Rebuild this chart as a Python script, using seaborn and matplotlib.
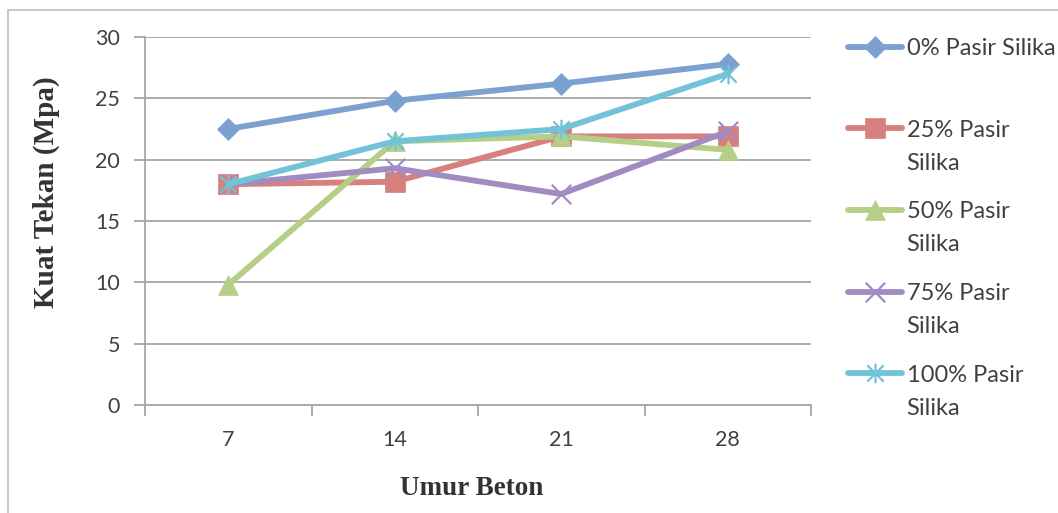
import numpy as np
import pandas as pd
import matplotlib
matplotlib.use("Agg")
import matplotlib.pyplot as plt
from matplotlib.path import Path
from matplotlib.patches import Rectangle
import seaborn as sns

# Data: compressive strength by concrete age
umur = ["7", "14", "21", "28"]
seri = ["0% Pasir Silika", "25% Pasir\nSilika", "50% Pasir\nSilika",
        "75% Pasir\nSilika", "100% Pasir\nSilika"]
pasir_0 = [22.5, 24.8, 26.2, 27.8]
pasir_25 = [18.0, 18.2, 21.9, 21.9]
pasir_50 = [9.8, 21.5, 21.9, 20.8]
pasir_75 = [18.0, 19.3, 17.2, 22.3]
pasir_100 = [18.0, 21.5, 22.5, 27.0]
y_ticks = [0, 5, 10, 15, 20, 25, 30]

nilai = [pasir_0, pasir_25, pasir_50, pasir_75, pasir_100]
warna = ["#7BA1D1", "#D7807D", "#B5CF87", "#A08CC1", "#72C3D7"]

# asterisk marker: x plus a vertical stroke
star_path = Path(
    [(-0.5, -0.5), (0.5, 0.5), (-0.5, 0.5), (0.5, -0.5), (0, -0.6), (0, 0.6)],
    [Path.MOVETO, Path.LINETO, Path.MOVETO, Path.LINETO, Path.MOVETO, Path.LINETO],
)
marker_x = Path([(-0.5, -0.5), (0.5, 0.5), (-0.5, 0.5), (0.5, -0.5)],
                [Path.MOVETO, Path.LINETO, Path.MOVETO, Path.LINETO])
penanda = ["D", "s", "^", marker_x, star_path]
ukuran = [11.5, 14, 14, 14, 14]

rows = []
for s, vals in zip(seri, nilai):
    for i, (u, v) in enumerate(zip(umur, vals)):
        rows.append({"seri": s, "pos": i, "umur": u, "kuat": v})
df = pd.DataFrame(rows)

sns.set_style("white")
plt.rcParams["font.family"] = ["Lato", "DejaVu Sans"]

W, H = 1058, 513
fig = plt.figure(figsize=(W / 100, H / 100), dpi=100)
ax = fig.add_axes([145 / W, 1 - 405 / H, (811 - 145) / W, (405 - 37) / H])

# outer chart frame
fig.patches.append(Rectangle((8 / W, -0.1), 1.2, 1 - 10 / H + 0.1,
                             transform=fig.transFigure, fill=False,
                             edgecolor="#BFBFBF", linewidth=1.2, zorder=0))

handles = []
for s, c, m, ms in zip(seri, warna, penanda, ukuran):
    d = df[df["seri"] == s]
    sns.lineplot(data=d, x="pos", y="kuat", ax=ax, color=c, linewidth=4.2,
                 marker=m, markersize=ms, markeredgecolor=c, markerfacecolor=c,
                 markeredgewidth=1.6 if m in (marker_x, star_path) else 0.5,
                 legend=False, solid_capstyle="round")
    handles.append(ax.lines[-1])

ax.set_xlim(-0.5, 3.5)
ax.set_ylim(0, 30)
ax.set_yticks(y_ticks)
ax.set_xticks(range(len(umur)))
ax.set_xticklabels(umur)
ax.set_xticks(np.arange(-0.5, len(umur), 1.0), minor=True)
ax.yaxis.grid(True, color="#A6A6A6", linewidth=1.3)
ax.set_axisbelow(True)
for sp in ["top", "right"]:
    ax.spines[sp].set_visible(False)
for sp in ["left", "bottom"]:
    ax.spines[sp].set_color("#A6A6A6")
    ax.spines[sp].set_linewidth(1.3)
ax.tick_params(axis="y", which="major", length=8, width=1.3, color="#A6A6A6",
               labelsize=15.5, labelcolor="#404040", pad=10, direction="out", left=True)
ax.tick_params(axis="x", which="major", length=0, labelsize=15.5,
               labelcolor="#404040", pad=18)
ax.tick_params(axis="x", which="minor", length=8, width=1.3, color="#A6A6A6",
               direction="out", bottom=True)

ax.set_xlabel("Umur Beton", fontsize=19.5, fontweight="bold",
              family="Liberation Serif", color="#333333")
ax.set_ylabel("Kuat Tekan (Mpa)", fontsize=21, fontweight="bold",
              family="Liberation Serif", color="#333333")
ax.xaxis.set_label_coords((472 - 145) / 666, (405 - 476) / 368)
ax.yaxis.set_label_coords((60 - 145) / 666, (405 - 192) / 368)

# legend: first line beside the handle, second line below it
first_lines = [s.split("\n")[0] for s in seri]
leg = ax.legend(handles, first_lines, loc="upper left",
                bbox_to_anchor=(848 / W, 1 - 38 / H),
                bbox_transform=fig.transFigure, frameon=False, fontsize=17,
                handlelength=2.3, handletextpad=0.18, labelspacing=2.57,
                borderpad=0, borderaxespad=0, labelcolor="#404040")

fig.canvas.draw()
inv = fig.transFigure.inverted()
for t, s in zip(leg.get_texts(), seri):
    parts = s.split("\n")
    if len(parts) > 1:
        bb = t.get_window_extent()
        x0, y0 = inv.transform((bb.x0, bb.y0 - 33))
        fig.text(x0, y0, parts[1], ha="left", va="bottom", fontsize=17,
                 color="#404040")

fig.savefig("out.png", dpi=100)
